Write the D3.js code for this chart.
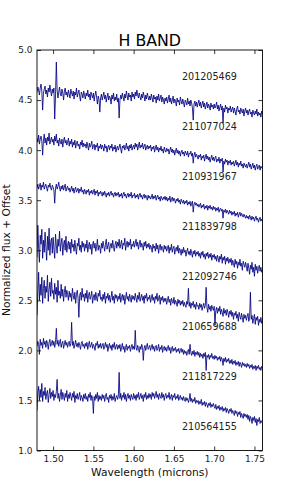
<!DOCTYPE html>
<html><head><meta charset="utf-8">
<script src="https://cdn.jsdelivr.net/npm/d3@7/dist/d3.min.js"></script>
<style>body{margin:0;background:#fff}svg{display:block}text{font-family:"DejaVu Sans",sans-serif}</style>
</head><body><svg id="c" width="291" height="501"></svg>
<script>
const wavelength = [
1.480,1.481,1.482,1.483,1.484,1.485,1.486,1.487,1.488,1.489,1.490,1.491,1.492,1.493,1.494,1.495,1.496,1.497,1.498,1.499,
1.500,1.501,1.502,1.503,1.504,1.505,1.506,1.507,1.508,1.509,1.510,1.511,1.512,1.513,1.514,1.515,1.516,1.517,1.518,1.519,
1.520,1.521,1.522,1.523,1.524,1.525,1.526,1.527,1.528,1.529,1.530,1.531,1.532,1.533,1.534,1.535,1.536,1.537,1.538,1.539,
1.540,1.541,1.542,1.543,1.544,1.545,1.546,1.547,1.548,1.549,1.550,1.551,1.552,1.553,1.554,1.555,1.556,1.557,1.558,1.559,
1.560,1.561,1.562,1.563,1.564,1.565,1.566,1.567,1.568,1.569,1.570,1.571,1.572,1.573,1.574,1.575,1.576,1.577,1.578,1.579,
1.580,1.581,1.582,1.583,1.584,1.585,1.586,1.587,1.588,1.589,1.590,1.591,1.592,1.593,1.594,1.595,1.596,1.597,1.598,1.599,
1.600,1.601,1.602,1.603,1.604,1.605,1.606,1.607,1.608,1.609,1.610,1.611,1.612,1.613,1.614,1.615,1.616,1.617,1.618,1.619,
1.620,1.621,1.622,1.623,1.624,1.625,1.626,1.627,1.628,1.629,1.630,1.631,1.632,1.633,1.634,1.635,1.636,1.637,1.638,1.639,
1.640,1.641,1.642,1.643,1.644,1.645,1.646,1.647,1.648,1.649,1.650,1.651,1.652,1.653,1.654,1.655,1.656,1.657,1.658,1.659,
1.660,1.661,1.662,1.663,1.664,1.665,1.666,1.667,1.668,1.669,1.670,1.671,1.672,1.673,1.674,1.675,1.676,1.677,1.678,1.679,
1.680,1.681,1.682,1.683,1.684,1.685,1.686,1.687,1.688,1.689,1.690,1.691,1.692,1.693,1.694,1.695,1.696,1.697,1.698,1.699,
1.700,1.701,1.702,1.703,1.704,1.705,1.706,1.707,1.708,1.709,1.710,1.711,1.712,1.713,1.714,1.715,1.716,1.717,1.718,1.719,
1.720,1.721,1.722,1.723,1.724,1.725,1.726,1.727,1.728,1.729,1.730,1.731,1.732,1.733,1.734,1.735,1.736,1.737,1.738,1.739,
1.740,1.741,1.742,1.743,1.744,1.745,1.746,1.747,1.748,1.749,1.750,1.751,1.752,1.753,1.754,1.755,1.756,1.757,1.758,1.759,
1.760];

const spec1 = [
4.58,4.63,4.60,4.55,4.62,4.66,4.59,4.40,4.57,4.61,4.64,4.56,4.60,4.53,4.62,4.58,4.65,4.59,4.54,4.61,
4.57,4.62,4.31,4.55,4.88,4.60,4.52,4.58,4.63,4.56,4.54,4.61,4.57,4.50,4.59,4.62,4.55,4.58,4.53,4.60,
4.56,4.52,4.61,4.57,4.54,4.59,4.51,4.58,4.55,4.62,4.53,4.57,4.60,4.54,4.49,4.58,4.56,4.52,4.59,4.55,
4.51,4.57,4.54,4.60,4.53,4.56,4.50,4.58,4.55,4.52,4.57,4.49,4.55,4.59,4.53,4.46,4.54,4.51,4.38,4.52,
4.56,4.50,4.54,4.58,4.51,4.55,4.48,4.53,4.57,4.50,4.54,4.52,4.46,4.55,4.51,4.57,4.49,4.53,4.50,4.56,
4.48,4.52,4.32,4.50,4.55,4.51,4.57,4.53,4.49,4.56,4.52,4.59,4.54,4.50,4.57,4.53,4.55,4.49,4.58,4.53,
4.56,4.51,4.58,4.54,4.60,4.55,4.52,4.57,4.53,4.50,4.56,4.52,4.58,4.54,4.49,4.55,4.51,4.57,4.53,4.50,
4.54,4.50,4.56,4.52,4.48,4.55,4.51,4.53,4.47,4.54,4.50,4.56,4.49,4.52,4.55,4.48,4.53,4.50,4.46,4.52,
4.49,4.53,4.47,4.51,4.55,4.48,4.52,4.46,4.50,4.54,4.47,4.51,4.49,4.44,4.52,4.48,4.50,4.45,4.53,4.49,
4.46,4.51,4.47,4.43,4.50,4.48,4.45,4.52,4.46,4.49,4.44,4.50,4.47,4.42,4.30,4.46,4.49,4.44,4.48,4.43,
4.47,4.50,4.44,4.48,4.42,4.46,4.49,4.43,4.47,4.41,4.45,4.48,4.42,4.46,4.44,4.40,4.47,4.43,4.45,4.41,
4.46,4.42,4.44,4.48,4.41,4.45,4.39,4.43,4.46,4.40,4.44,4.27,4.42,4.38,4.45,4.41,4.43,4.37,4.42,4.40,
4.44,4.38,4.41,4.43,4.37,4.42,4.39,4.35,4.41,4.44,4.38,4.40,4.36,4.42,4.39,4.37,4.41,4.34,4.39,4.42,
4.37,4.40,4.35,4.39,4.41,4.36,4.38,4.33,4.40,4.37,4.35,4.39,4.36,4.41,4.34,4.38,4.35,4.37,4.33,4.39,
4.36];

const spec2 = [
4.12,4.08,4.15,4.06,4.11,4.14,4.09,3.95,4.10,4.16,4.07,4.12,4.05,4.13,4.09,4.17,4.06,4.10,4.13,4.08,
4.11,4.05,4.14,4.09,4.16,4.07,4.10,4.04,4.12,4.08,4.06,4.11,4.03,4.09,4.13,4.07,4.10,4.05,4.08,4.12,
4.04,4.09,4.06,4.11,4.03,4.08,4.05,4.10,4.02,4.07,4.09,4.04,4.06,4.01,4.08,4.05,4.10,4.03,4.07,4.04,
4.06,4.02,4.08,4.04,4.00,4.07,4.03,4.05,4.09,4.01,4.04,4.06,4.00,4.05,4.03,4.07,3.99,4.04,4.02,4.06,
4.01,4.05,4.03,3.99,4.06,4.02,4.04,3.98,4.03,4.05,4.00,4.04,4.02,4.06,3.99,4.03,4.01,4.05,3.98,4.02,
4.04,4.00,4.03,4.06,4.01,3.97,4.04,4.02,4.05,4.00,4.03,4.07,4.01,4.04,3.99,4.05,4.02,4.06,4.00,4.03,
4.05,4.01,4.07,4.03,4.06,4.00,4.04,4.08,4.02,4.05,4.03,4.07,4.01,4.04,4.06,4.00,4.03,4.05,4.01,4.04,
4.02,4.05,3.99,4.03,4.01,4.04,3.98,4.02,4.05,4.00,4.03,3.98,4.02,4.00,4.04,3.99,4.01,3.97,4.03,4.00,
3.98,4.02,3.99,4.01,3.96,4.00,4.03,3.98,4.01,3.97,4.00,3.95,3.99,4.02,3.97,4.00,3.96,3.99,3.94,3.98,
4.00,3.96,3.98,3.94,3.99,3.97,3.95,3.99,3.93,3.97,3.96,3.99,3.94,3.97,3.87,3.95,3.98,3.93,3.96,3.94,
3.91,3.95,3.93,3.96,3.90,3.94,3.92,3.95,3.89,3.93,3.96,3.91,3.94,3.90,3.93,3.88,3.92,3.95,3.90,3.93,
3.89,3.92,3.94,3.88,3.91,3.89,3.93,3.87,3.91,3.89,3.92,3.78,3.89,3.86,3.91,3.88,3.90,3.85,3.89,3.87,
3.90,3.85,3.88,3.86,3.89,3.84,3.87,3.90,3.85,3.88,3.83,3.87,3.85,3.89,3.84,3.86,3.82,3.87,3.85,3.83,
3.86,3.82,3.85,3.88,3.83,3.86,3.81,3.84,3.87,3.82,3.85,3.80,3.84,3.86,3.81,3.83,3.85,3.80,3.84,3.82,
3.83];

const spec3 = [
3.62,3.66,3.61,3.64,3.67,3.60,3.65,3.63,3.68,3.61,3.64,3.66,3.62,3.59,3.65,3.63,3.67,3.62,3.60,3.65,
3.63,3.60,3.47,3.62,3.66,3.61,3.64,3.68,3.62,3.59,3.64,3.61,3.65,3.60,3.63,3.66,3.59,3.62,3.64,3.60,
3.62,3.58,3.61,3.64,3.59,3.62,3.57,3.61,3.63,3.58,3.60,3.62,3.57,3.61,3.59,3.63,3.58,3.60,3.56,3.61,
3.59,3.56,3.60,3.58,3.61,3.55,3.59,3.57,3.60,3.56,3.58,3.61,3.55,3.59,3.57,3.60,3.54,3.58,3.56,3.59,
3.57,3.54,3.58,3.55,3.59,3.56,3.53,3.57,3.55,3.58,3.54,3.57,3.59,3.55,3.57,3.53,3.56,3.58,3.54,3.57,
3.55,3.58,3.53,3.56,3.54,3.57,3.52,3.56,3.58,3.54,3.56,3.52,3.55,3.57,3.53,3.56,3.54,3.58,3.52,3.55,
3.54,3.57,3.52,3.55,3.53,3.56,3.51,3.55,3.57,3.53,3.55,3.51,3.54,3.56,3.52,3.55,3.53,3.50,3.55,3.52,
3.54,3.51,3.53,3.56,3.51,3.54,3.52,3.55,3.50,3.53,3.55,3.51,3.53,3.49,3.54,3.52,3.50,3.53,3.51,3.54,
3.50,3.53,3.49,3.52,3.50,3.54,3.48,3.51,3.53,3.49,3.52,3.50,3.47,3.51,3.49,3.52,3.48,3.50,3.46,3.51,
3.49,3.47,3.50,3.46,3.49,3.47,3.50,3.45,3.48,3.46,3.49,3.44,3.47,3.49,3.38,3.46,3.48,3.45,3.47,3.44,
3.46,3.43,3.45,3.47,3.42,3.45,3.43,3.46,3.41,3.44,3.42,3.45,3.40,3.44,3.42,3.45,3.41,3.43,3.40,3.44,
3.41,3.43,3.39,3.42,3.40,3.43,3.38,3.41,3.42,3.39,3.41,3.32,3.40,3.38,3.41,3.37,3.40,3.38,3.36,3.40,
3.37,3.39,3.35,3.38,3.36,3.39,3.34,3.37,3.35,3.38,3.33,3.36,3.38,3.34,3.37,3.35,3.33,3.36,3.34,3.32,
3.35,3.32,3.34,3.31,3.35,3.33,3.30,3.34,3.31,3.33,3.29,3.32,3.34,3.30,3.32,3.28,3.31,3.33,3.29,3.31,
3.29];

const spec4 = [
2.93,3.25,3.02,2.88,3.15,3.06,3.21,2.92,3.10,2.98,3.18,3.03,2.90,3.14,3.00,3.22,2.95,3.08,3.12,2.97,
3.13,3.01,2.92,3.16,3.05,2.97,3.11,3.04,3.19,2.99,3.07,3.12,2.95,3.06,3.10,3.00,3.14,2.98,3.05,3.09,
3.01,3.08,2.97,3.11,3.03,3.06,2.99,3.10,3.02,2.96,3.07,3.04,3.12,3.00,3.05,2.98,3.09,3.03,3.07,2.99,
3.06,3.02,3.10,2.98,3.04,3.08,3.01,3.06,2.96,3.05,3.09,3.02,3.07,2.99,3.04,3.11,3.00,3.05,3.03,2.97,
3.07,3.02,3.09,3.04,2.99,3.06,3.11,3.01,3.05,3.08,2.98,3.04,3.07,3.02,3.10,3.03,2.99,3.06,3.09,3.02,
3.08,3.04,3.11,3.02,3.06,3.10,3.01,3.07,3.05,3.12,3.00,3.06,3.09,3.03,3.08,3.05,3.11,3.01,3.06,3.04,
3.09,3.03,3.07,3.11,3.04,3.08,3.01,3.06,3.10,3.03,3.07,3.05,3.00,3.08,3.04,3.09,3.02,3.06,3.03,3.07,
3.01,3.05,3.03,2.98,3.06,3.02,3.04,2.99,3.07,3.01,3.05,2.97,3.03,3.06,3.00,3.04,3.02,2.98,3.05,3.01,
3.04,2.99,3.02,3.05,2.97,3.03,3.00,3.06,2.98,3.02,3.04,2.96,3.01,3.03,2.99,3.05,2.97,3.02,3.00,2.95,
3.01,2.97,3.03,2.98,3.00,2.94,2.99,3.02,2.96,2.99,2.95,3.01,2.97,2.93,2.99,2.96,3.00,2.94,2.98,2.96,
2.99,2.94,2.97,2.92,2.98,2.95,2.99,2.93,2.96,2.91,2.97,2.94,2.98,2.92,2.96,2.93,2.97,2.90,2.95,2.93,
2.96,2.91,2.94,2.89,2.95,2.92,2.88,2.94,2.91,2.96,2.87,2.93,2.90,2.94,2.86,2.92,2.89,2.93,2.87,2.91,
2.88,2.92,2.85,2.90,2.87,2.83,2.91,2.86,2.89,2.82,2.88,2.85,2.91,2.84,2.87,2.80,2.89,2.86,2.83,2.88,
2.84,2.79,2.87,2.82,2.76,2.85,2.81,2.88,2.78,2.83,2.74,2.86,2.80,2.84,2.77,2.82,2.85,2.79,2.83,2.78,
2.81];

const spec5 = [
2.35,2.58,2.78,2.50,2.66,2.55,2.73,2.47,2.62,2.70,2.52,2.64,2.58,2.75,2.49,2.61,2.68,2.54,2.72,2.57,
2.60,2.51,2.67,2.56,2.63,2.48,2.70,2.55,2.59,2.52,2.66,2.54,2.61,2.49,2.58,2.64,2.53,2.60,2.56,2.50,
2.59,2.53,2.57,2.49,2.62,2.55,2.51,2.58,2.47,2.56,2.60,2.52,2.33,2.55,2.58,2.50,2.62,2.53,2.56,2.49,
2.57,2.52,2.60,2.48,2.55,2.58,2.51,2.54,2.59,2.47,2.53,2.56,2.50,2.58,2.52,2.49,2.57,2.54,2.60,2.51,
2.53,2.49,2.56,2.51,2.58,2.47,2.54,2.52,2.57,2.50,2.55,2.48,2.53,2.59,2.50,2.54,2.47,2.56,2.52,2.55,
2.49,2.54,2.51,2.57,2.48,2.53,2.56,2.50,2.55,2.46,2.52,2.58,2.51,2.54,2.49,2.56,2.52,2.48,2.55,2.51,
2.54,2.50,2.57,2.52,2.48,2.55,2.51,2.58,2.49,2.53,2.56,2.50,2.54,2.47,2.55,2.52,2.57,2.49,2.53,2.51,
2.55,2.48,2.52,2.56,2.50,2.53,2.47,2.54,2.51,2.57,2.49,2.52,2.55,2.46,2.53,2.50,2.54,2.48,2.52,2.49,
2.52,2.46,2.50,2.54,2.48,2.51,2.45,2.52,2.49,2.47,2.53,2.46,2.50,2.48,2.44,2.51,2.47,2.50,2.45,2.49,
2.46,2.50,2.44,2.48,2.45,2.43,2.49,2.46,2.62,2.44,2.48,2.42,2.47,2.45,2.49,2.43,2.46,2.41,2.48,2.44,
2.45,2.41,2.47,2.43,2.46,2.40,2.44,2.47,2.42,2.45,2.63,2.43,2.38,2.46,2.41,2.44,2.39,2.45,2.42,2.40,
2.44,2.25,2.40,2.43,2.37,2.42,2.39,2.44,2.36,2.41,2.38,2.34,2.42,2.37,2.40,2.35,2.41,2.38,2.33,2.39,
2.36,2.40,2.34,2.38,2.31,2.37,2.35,2.39,2.32,2.36,2.29,2.38,2.34,2.31,2.37,2.33,2.28,2.36,2.32,2.35,
2.30,2.34,2.37,2.29,2.33,2.58,2.31,2.35,2.27,2.32,2.36,2.26,2.33,2.30,2.34,2.25,2.31,2.28,2.33,2.27,
2.30];

const spec6 = [
2.04,2.09,2.06,1.96,2.11,2.05,2.08,2.02,2.12,2.06,2.09,2.03,2.10,2.07,2.01,2.08,2.11,2.04,2.07,2.10,
2.05,2.09,2.03,2.08,2.22,2.06,2.10,2.04,2.08,2.11,2.03,2.07,2.09,2.02,2.06,2.10,2.05,2.08,2.03,2.07,
2.09,2.04,2.07,2.28,2.05,2.09,2.02,2.06,2.10,2.04,2.07,2.03,2.08,2.05,2.01,2.07,2.09,2.04,2.06,2.02,
2.07,2.04,2.08,2.01,2.06,2.09,2.03,2.05,2.08,2.02,2.06,2.04,2.00,2.07,2.05,2.09,2.02,2.06,2.03,2.07,
2.02,2.05,2.07,2.01,2.04,2.08,2.03,2.06,1.99,2.04,2.07,2.02,2.05,2.00,2.06,2.03,2.08,2.01,2.04,2.06,
2.01,2.05,2.02,2.06,1.99,2.03,2.07,2.01,2.04,1.98,2.03,2.06,2.00,2.04,2.02,2.05,1.99,2.03,2.06,2.01,
2.04,2.01,2.20,2.03,2.00,2.05,2.02,1.98,2.04,2.01,2.06,2.03,1.90,2.02,2.05,2.00,2.04,2.07,2.01,2.03,
2.05,2.00,2.03,2.06,2.01,2.04,1.99,2.03,2.05,2.00,2.02,2.06,1.99,2.03,2.01,2.05,1.98,2.02,2.04,2.00,
2.03,1.99,2.02,2.05,2.00,2.03,1.97,2.01,2.04,1.99,2.02,2.00,2.03,1.98,2.01,1.99,2.02,1.97,2.00,2.02,
1.98,2.01,1.96,2.00,1.97,1.99,1.95,1.99,2.01,1.96,2.06,1.98,1.95,1.99,1.96,2.00,1.94,1.98,1.96,1.99,
1.95,1.98,1.93,1.97,1.94,1.96,1.92,1.97,1.94,1.98,1.80,1.95,1.93,1.96,1.91,1.95,1.93,1.97,1.92,1.94,
1.91,1.95,1.92,1.94,1.90,1.93,1.91,1.94,1.89,1.93,1.91,1.85,1.92,1.89,1.93,1.88,1.91,1.89,1.92,1.87,
1.90,1.87,1.91,1.86,1.89,1.87,1.90,1.85,1.88,1.86,1.89,1.84,1.88,1.86,1.83,1.88,1.85,1.87,1.84,1.86,
1.83,1.87,1.84,1.86,1.82,1.85,1.83,1.86,1.81,1.84,1.82,1.85,1.80,1.84,1.82,1.85,1.81,1.83,1.80,1.84,
1.82];

const spec7 = [
1.40,1.58,1.64,1.50,1.61,1.53,1.67,1.49,1.59,1.55,1.63,1.51,1.57,1.60,1.48,1.56,1.62,1.52,1.58,1.54,
1.60,1.50,1.56,1.53,1.59,1.71,1.52,1.57,1.49,1.55,1.61,1.51,1.58,1.54,1.50,1.57,1.53,1.60,1.49,1.56,
1.52,1.58,1.54,1.50,1.57,1.53,1.59,1.48,1.55,1.52,1.57,1.51,1.54,1.58,1.50,1.55,1.53,1.49,1.56,1.52,
1.57,1.51,1.54,1.49,1.56,1.53,1.58,1.50,1.55,1.52,1.37,1.54,1.50,1.56,1.52,1.58,1.49,1.55,1.51,1.54,
1.50,1.56,1.52,1.55,1.49,1.54,1.57,1.51,1.53,1.48,1.55,1.52,1.56,1.50,1.54,1.51,1.57,1.49,1.53,1.55,
1.51,1.54,1.78,1.52,1.57,1.50,1.55,1.53,1.58,1.51,1.56,1.49,1.54,1.57,1.52,1.55,1.50,1.56,1.53,1.51,
1.57,1.52,1.55,1.50,1.56,1.53,1.58,1.51,1.54,1.57,1.52,1.55,1.49,1.56,1.53,1.58,1.51,1.55,1.52,1.57,
1.53,1.56,1.51,1.58,1.54,1.57,1.52,1.55,1.59,1.53,1.56,1.51,1.57,1.54,1.52,1.58,1.53,1.56,1.50,1.55,
1.57,1.52,1.55,1.53,1.58,1.51,1.54,1.56,1.50,1.55,1.53,1.57,1.51,1.54,1.52,1.56,1.50,1.53,1.55,1.51,
1.53,1.50,1.54,1.51,1.49,1.53,1.50,1.52,1.48,1.51,1.57,1.49,1.52,1.48,1.51,1.49,1.53,1.47,1.50,1.48,
1.50,1.46,1.49,1.47,1.51,1.45,1.48,1.46,1.49,1.44,1.48,1.46,1.43,1.47,1.45,1.48,1.43,1.46,1.44,1.47,
1.44,1.42,1.46,1.41,1.44,1.42,1.45,1.40,1.43,1.41,1.44,1.39,1.42,1.40,1.43,1.38,1.42,1.40,1.37,1.41,
1.39,1.42,1.37,1.40,1.38,1.35,1.40,1.37,1.39,1.34,1.38,1.36,1.39,1.33,1.37,1.35,1.32,1.37,1.34,1.36,
1.33,1.36,1.31,1.35,1.29,1.34,1.32,1.27,1.33,1.30,1.34,1.28,1.32,1.25,1.31,1.29,1.33,1.27,1.30,1.28,
1.29];

const spectra = [spec1, spec2, spec3, spec4, spec5, spec6, spec7];

const starIds = ["201205469","211077024","210931967","211839798","212092746","210659688","211817229","210564155"];
const labelY = [4.7, 4.2, 3.7, 3.2, 2.7, 2.2, 1.7, 1.2];
const labelX = 1.66;

const xTicks = [1.50, 1.55, 1.60, 1.65, 1.70, 1.75];
const yTicks = [1.0, 1.5, 2.0, 2.5, 3.0, 3.5, 4.0, 4.5, 5.0];

const svg = d3.select("#c");
const L = 37, R = 262.5, T = 50, B = 450.5;
const x = d3.scaleLinear().domain([1.48, 1.76]).range([L, R]);
const y = d3.scaleLinear().domain([1.0, 5.0]).range([B, T]);

svg.append("defs").append("clipPath").attr("id","clip")
  .append("rect").attr("x", L).attr("y", T).attr("width", R - L).attr("height", B - T);

const line = d3.line().x((d, i) => x(wavelength[i])).y(d => y(d));
svg.append("g").attr("clip-path","url(#clip)")
  .selectAll("path").data(spectra).join("path")
  .attr("d", line)
  .attr("fill","none")
  .attr("stroke","#000080")
  .attr("stroke-width",0.85)
  .attr("stroke-linejoin","round");

svg.selectAll("text.id").data(starIds).join("text").attr("class","id")
  .attr("x", x(labelX)).attr("y", (d, i) => y(labelY[i]))
  .attr("font-size", 9.6).attr("fill", "#222").text(d => d);

const fmt = d3.format(".2f"), fmt1 = d3.format(".1f");
const ax = svg.append("g").attr("transform", `translate(0,${B})`)
  .call(d3.axisBottom(x).tickValues(xTicks).tickFormat(fmt).tickSize(-4).tickPadding(5));
const axT = svg.append("g").attr("transform", `translate(0,${T})`)
  .call(d3.axisTop(x).tickValues(xTicks).tickFormat("").tickSize(-4));
const ay = svg.append("g").attr("transform", `translate(${L},0)`)
  .call(d3.axisLeft(y).tickValues(yTicks).tickFormat(fmt1).tickSize(-4).tickPadding(4.5));
const ayR = svg.append("g").attr("transform", `translate(${R},0)`)
  .call(d3.axisRight(y).tickValues(yTicks).tickFormat("").tickSize(-4));
[ax, axT, ay, ayR].forEach(g => {
  g.select(".domain").remove();
  g.selectAll("line").attr("stroke", "#000").attr("stroke-width", 0.8);
  g.selectAll("text").attr("font-family", "DejaVu Sans").attr("font-size", 9).attr("fill", "#222");
});

svg.append("rect").attr("x", L).attr("y", T).attr("width", R - L).attr("height", B - T)
  .attr("fill","none").attr("stroke","#000").attr("stroke-width",0.9);

svg.append("text").attr("x", (L + R) / 2).attr("y", 46).attr("text-anchor","middle")
  .attr("font-size", 15.8).attr("fill","#000").text("H BAND");
svg.append("text").attr("x", (L + R) / 2).attr("y", 476).attr("text-anchor","middle")
  .attr("font-size", 10.7).attr("fill","#111").text("Wavelength (microns)");
svg.append("text").attr("transform", `translate(10,${(T + B) / 2}) rotate(-90)`).attr("text-anchor","middle")
  .attr("font-size", 10.7).attr("fill","#111").text("Normalized flux + Offset");
</script></body></html>
